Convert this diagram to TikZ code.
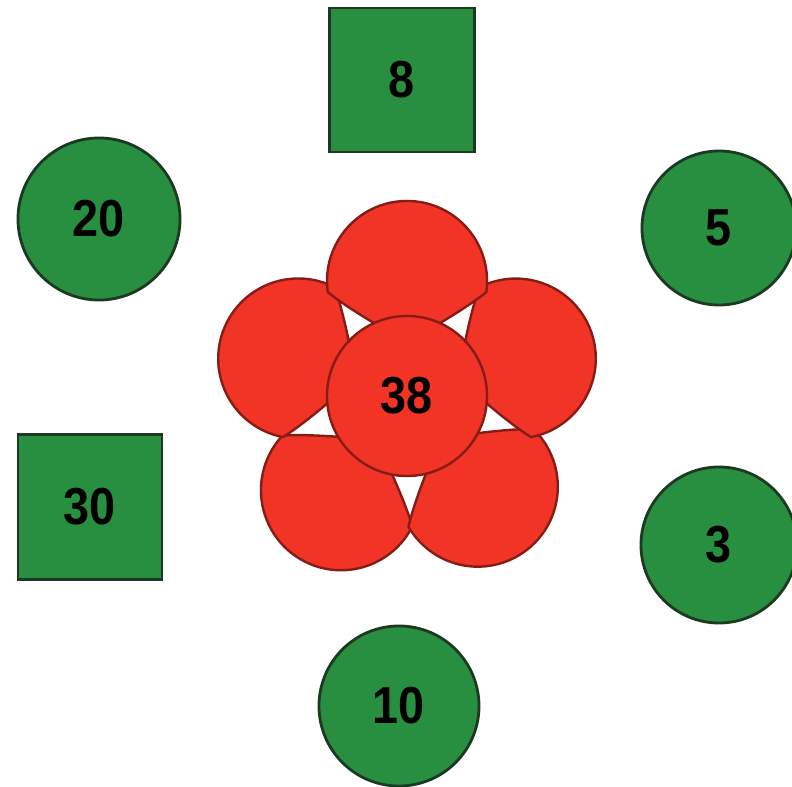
\documentclass[tikz,border=0pt]{standalone}
\usepackage{fontspec}
\setmainfont{Liberation Sans}
\definecolor{gfill}{RGB}{40,142,64}
\definecolor{gline}{RGB}{28,58,34}
\definecolor{rfill}{RGB}{241,52,38}
\definecolor{rline}{RGB}{135,28,22}
\newcommand\dgt[1]{\scalebox{0.9}[1]{#1}}
\tikzset{
  lbl/.style={font=\bfseries\fontsize{37}{40}\selectfont, text=black},
  gcirc/.style={circle, draw=gline, fill=gfill, line width=0.07cm, inner sep=0pt, lbl},
  gsq/.style={rectangle, draw=gline, fill=gfill, line width=0.07cm, inner sep=0pt, lbl},
  petalpath/.style={draw=rline, fill=rfill, line width=0.06cm, line join=round},
  core/.style={circle, draw=rline, fill=rfill, line width=0.06cm, inner sep=0pt,
    minimum size=4cm, lbl}
}
% petal pointing at angle #1 from the flower centre
\newcommand\petalat[1]{%
  \begin{scope}[shift={(407,396)}, x=0.025cm, y=0.025cm, rotate=#1-90]
    \path[petalpath] (0,54) .. controls (-20,65) and (-60,88) .. (-79.2,103.9)
      arc[start angle=188, end angle=-8, radius=2cm]
      .. controls (60,88) and (20,65) .. (0,54) -- cycle;
  \end{scope}}
\begin{document}
\begin{tikzpicture}[x=0.025cm, y=-0.025cm]
\useasboundingbox[fill=white] (0,0) rectangle (792,787);
% green shapes
\node[gsq, minimum width=3.625cm, minimum height=3.6cm] (s8) at (402,80) {\dgt{8}};
\node[gcirc, minimum size=4.05cm] (c20) at (99,219) {\dgt{20}};
\node[gcirc, minimum size=3.85cm] (c5) at (719,228) {\dgt{5}};
\node[gsq, minimum width=3.6cm, minimum height=3.625cm] (s30) at (90,507) {\dgt{30}};
\node[gcirc, minimum size=3.9cm] (c3) at (719,545) {\dgt{3}};
\node[gcirc, minimum size=4cm] (c10) at (399,706) {\dgt{10}};
% flower petals
\petalat{235}
\petalat{308}
\petalat{161}
\petalat{19}
\petalat{90}
% centre
\node[core] (c38) at (407,396) {\dgt{38}};
\end{tikzpicture}
\end{document}
